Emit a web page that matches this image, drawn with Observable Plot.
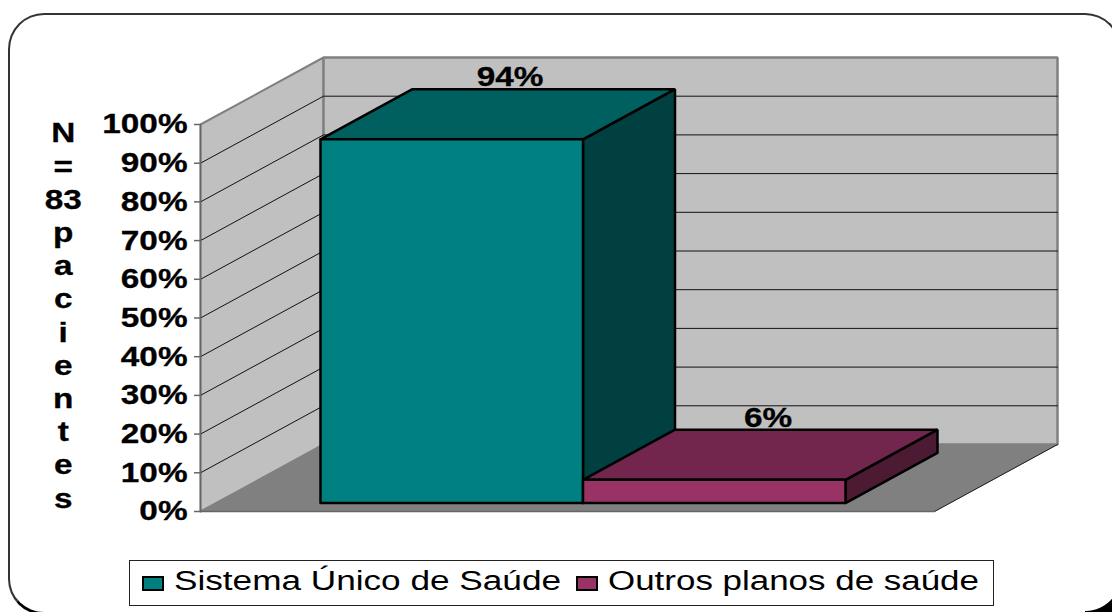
<!DOCTYPE html>
<html>
<head>
<meta charset="utf-8">
<script src="https://cdn.jsdelivr.net/npm/d3@7"></script>
<script src="https://cdn.jsdelivr.net/npm/@observablehq/plot@0.6"></script>
<style>
html,body{margin:0;padding:0;background:#fff;overflow:hidden;width:1112px;height:612px;}
#wrap{position:relative;width:1112px;height:612px;overflow:hidden;font-family:"Liberation Sans",Arial,sans-serif;}
#frame{position:absolute;left:8px;top:13px;width:1109px;height:597px;border:2px solid #333;border-bottom:3px solid #000;border-radius:36px;box-sizing:content-box;}
#corner{position:absolute;left:1085px;top:575px;width:27px;height:37px;background:radial-gradient(circle 36.5px at 0 0,transparent 35.5px,#000 36.5px);}
#chart{position:absolute;left:0;top:0;}
#legend{position:absolute;left:129px;top:560px;width:863px;height:44px;border:1px solid #222;background:#fff;}
#legend i{position:absolute;top:15px;width:18px;height:11px;border:2px solid #000;}
#legend span{position:absolute;top:3px;font-size:27px;line-height:34px;white-space:pre;transform-origin:0 50%;color:#000;}
</style>
</head>
<body>
<div id="wrap">
<div id="frame"></div>
<div id="corner"></div>
<div id="chart"></div>
<div id="legend"></div>
</div>
<script>
// Data
const seriesNames = ["Sistema Único de Saúde", "Outros planos de saúde"];
const seriesValues = [94, 6];
const frontColors = ["#008080", "#993366"];
const topColors = ["#006060", "#73264d"];
const sideColors = ["#004040", "#4d1a33"];
const yTicks = [0, 10, 20, 30, 40, 50, 60, 70, 80, 90, 100];
const axisTitleLines = ["N", "=", "83", "p", "a", "c", "i", "e", "n", "t", "e", "s"];

// 3D oblique model: u = floor width (0..1), v = percent, d = depth (0..1)
const depthU = 123 / 734, depthV = 67 / 3.87;
const gapU = 104.5 / 734, barU = 262.5 / 734, labelStepU = 258 / 734;
const barDepth = [0.126, 0.874];
const P = (u, v, d) => ({x: u + d * depthU, y: v + d * depthV});
const poly = (pts) => [...pts, pts[0]];
const face = (pts, fill, stroke, strokeWidth) =>
  Plot.line(poly(pts), {x: "x", y: "y", fill, stroke, strokeWidth, strokeLinejoin: "miter", curve: "linear"});

const marks = [];
// walls and floor
marks.push(face([P(0,0,0), P(0,0,1), P(0,100,1), P(0,100,0)], "#c0c0c0", "#808080", 2));
marks.push(face([P(0,0,1), P(1,0,1), P(1,100,1), P(0,100,1)], "#c0c0c0", "#808080", 2.5));
marks.push(face([P(0,0,0), P(1,0,0), P(1,0,1), P(0,0,1)], "#808080", "#808080", 1));
// gridlines
for (const t of yTicks.slice(1, -1)) {
  marks.push(Plot.line([P(0,t,0), P(0,t,1), P(1,t,1)], {x: "x", y: "y", stroke: "#111", strokeWidth: 1}));
}
// walls' strong edges
marks.push(Plot.line([P(0,0,0), P(0,100,0)], {x:"x", y:"y", stroke:"#666", strokeWidth:1.5}));
marks.push(Plot.line([P(1,0,1), P(1,0,0)], {x:"x", y:"y", stroke:"#222", strokeWidth:1}));
marks.push(Plot.line([P(0,0,0), P(1,0,0)], {x:"x", y:"y", stroke:"#666", strokeWidth:1.5}));
// bars
seriesValues.forEach((v, i) => {
  const u0 = gapU + i * barU, u1 = u0 + barU, [d0, d1] = barDepth;
  marks.push(face([P(u1,0,d0), P(u1,0,d1), P(u1,v,d1), P(u1,v,d0)], sideColors[i], "#000", 2.5));
  marks.push(face([P(u0,v,d0), P(u1,v,d0), P(u1,v,d1), P(u0,v,d1)], topColors[i], "#000", 2.5));
  marks.push(face([P(u0,0,d0), P(u1,0,d0), P(u1,v,d0), P(u0,v,d0)], frontColors[i], "#000", 2.5));
});
const textStyle = {fontSize: 28, fontWeight: "bold", fill: "#000", className: "wide"};
// data labels
marks.push(Plot.text(seriesValues.map((v, i) => {
  const p = P(gapU + 0.5 * barU + i * labelStepU, v, 0.6);
  return {...p, label: v + "%"};
}), {x: "x", y: "y", text: "label", dy: -30, ...textStyle}));
// axis title, one row per line
marks.push(Plot.text(axisTitleLines.map((s, i) => ({x: -0.187, y: 97.7 - i * 8.58, s})), {
  x: "x", y: "y", text: "s", ...textStyle
}));
// y axis
marks.push(Plot.axisY(yTicks, {
  anchor: "left", tickSize: 6, tickPadding: 7, stroke: "#666", strokeWidth: 1.5,
  tickFormat: (d) => d + "%", label: null, ...textStyle
}));

const plot = Plot.plot({
  width: 1112, height: 612,
  marginLeft: 200, marginRight: 178, marginTop: 124, marginBottom: 101,
  style: {background: "transparent", fontFamily: '"Liberation Sans", Arial, sans-serif', overflow: "visible"},
  x: {domain: [0, 1], axis: null},
  y: {domain: [0, 100], axis: null},
  marks
});
document.getElementById("chart").appendChild(plot);

// Stretch the labels horizontally and thicken them as in the reference
plot.querySelectorAll(".wide text, text.wide, g[aria-label*='tick label'] text").forEach((t) => {
  t.setAttribute("textLength", t.getComputedTextLength() * 1.19);
  t.setAttribute("lengthAdjust", "spacingAndGlyphs");
  t.style.stroke = "#000";
  t.style.strokeWidth = "0.3px";
});

// Legend
const legend = document.getElementById("legend");
const legendX = [[12, 44, 387], [446, 478, 371]];
seriesNames.forEach((name, i) => {
  const sw = document.createElement("i");
  sw.style.left = legendX[i][0] + "px";
  sw.style.background = frontColors[i];
  legend.appendChild(sw);
  const sp = document.createElement("span");
  sp.textContent = name;
  sp.style.left = legendX[i][1] + "px";
  legend.appendChild(sp);
  sp.style.transform = `scaleX(${legendX[i][2] / sp.getBoundingClientRect().width})`;
});
</script>
</body>
</html>
